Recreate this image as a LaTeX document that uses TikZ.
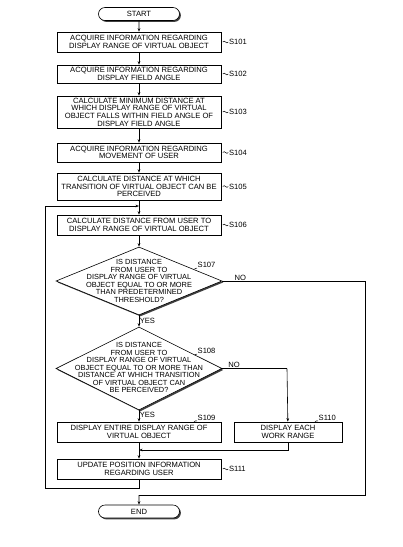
\documentclass[tikz,border=0pt]{standalone}
\usepackage{fontspec}
\setmainfont{Liberation Sans}
\usetikzlibrary{shapes.geometric,shapes.misc,shadows,arrows.meta,calc}
\begin{document}
\begin{tikzpicture}[x=1pt,y=-1pt,
  font=\fontsize{7.6}{7.7}\selectfont,
  shd/.style={drop shadow={shadow xshift=1.4pt,shadow yshift=-1.4pt,fill=black!75,opacity=1}},
  box/.style={draw,fill=white,line width=0.6pt,minimum width=164pt,align=center,inner sep=1pt,shd},
  term/.style={draw,fill=white,rounded rectangle,line width=0.6pt,minimum width=83pt,minimum height=13pt,inner sep=1pt,shd},
  dia/.style={draw,fill=white,diamond,line width=0.6pt,minimum width=166pt,inner sep=0pt,shd},
  dtext/.style={align=center,inner sep=0pt,font=\fontsize{7.4}{7.5}\selectfont},
  flow/.style={-{Stealth[length=3.5pt,width=2.6pt]},line width=0.6pt},
  ln/.style={line width=0.6pt},
  lab/.style={inner sep=0.5pt}]
\useasboundingbox (0,0) rectangle (403,547);

\node[term] (start) at (139,14) {START};
\node[box,minimum height=20pt] (s101) at (139,42) {ACQUIRE INFORMATION REGARDING\\DISPLAY RANGE OF VIRTUAL OBJECT};
\node[box,minimum height=18pt] (s102) at (139,74) {ACQUIRE INFORMATION REGARDING\\DISPLAY FIELD ANGLE};
\node[box,minimum height=32pt] (s103) at (139,112) {CALCULATE MINIMUM DISTANCE AT\\WHICH DISPLAY RANGE OF VIRTUAL\\OBJECT FALLS WITHIN FIELD ANGLE OF\\DISPLAY FIELD ANGLE};
\node[box,minimum height=19pt] (s104) at (139,152.5) {ACQUIRE INFORMATION REGARDING\\MOVEMENT OF USER};
\node[box,minimum height=27pt] (s105) at (139,186.5) {CALCULATE DISTANCE AT WHICH\\TRANSITION OF VIRTUAL OBJECT CAN BE\\PERCEIVED};
\node[box,minimum height=20pt] (s106) at (139,225) {CALCULATE DISTANCE FROM USER TO\\DISPLAY RANGE OF VIRTUAL OBJECT};
\node[dia,minimum height=68pt] (s107) at (139,281) {};
\node[dtext] (t107) at (139,281) {IS DISTANCE\\FROM USER TO\\DISPLAY RANGE OF VIRTUAL\\OBJECT EQUAL TO OR MORE\\THAN PREDETERMINED\\THRESHOLD?};
\node[dia,minimum height=83pt] (s108) at (139,368.5) {};
\node[dtext] (t108) at (139,367.5) {IS DISTANCE\\FROM USER TO\\DISPLAY RANGE OF VIRTUAL\\OBJECT EQUAL TO OR MORE THAN\\DISTANCE AT WHICH TRANSITION\\OF VIRTUAL OBJECT CAN\\BE PERCEIVED?};
\node[box,minimum height=20pt] (s109) at (139,432) {DISPLAY ENTIRE DISPLAY RANGE OF\\VIRTUAL OBJECT};
\node[box,minimum width=108pt,minimum height=20pt] (s110) at (288,432) {DISPLAY EACH\\WORK RANGE};
\node[box,minimum height=20pt] (s111) at (139,469) {UPDATE POSITION INFORMATION\\REGARDING USER};
\node[term] (end) at (139,511.5) {END};

% step labels with tilde
\foreach \n in {101,102,103,104,105,106,111}{
  \draw[line width=0.5pt] ($(s\n.east)+(1.5,0)$) .. controls +(2,-3) and +(-2,3) .. ($(s\n.east)+(7,0)$)
    node[right,lab] (l\n) {S\n};
}
% step labels with small arcs
\node[lab,anchor=south west] (l107) at (197,268) {S107};
\draw[line width=0.5pt] (194.5,269) to[bend left=40] (l107.south west);
\node[lab,anchor=south west] (l108) at (197,354) {S108};
\draw[line width=0.5pt] (194.5,355) to[bend left=40] (l108.south west);
\node[lab,anchor=south west] (l109) at (197,421) {S109};
\draw[line width=0.5pt] (194,422) to[bend left=40] (l109.south west);
\node[lab,anchor=south west] (l110) at (318,421) {S110};
\draw[line width=0.5pt] (315,422) to[bend left=40] (l110.south west);

% main flow
\draw[flow] (start) -- (s101);
\draw[flow] (s101) -- (s102);
\draw[flow] (s102) -- (s103);
\draw[flow] (s103) -- (s104);
\draw[flow] (s104) -- (s105);
\draw[flow] (s105) -- (s106);
\draw[flow] (s106) -- (s107);
\draw[flow] (s107) -- node[right,lab,pos=0.5] (yes1) {YES} (s108);
\draw[flow] (s108) -- node[right,lab,pos=0.4] (yes2) {YES} (s109);
\draw[flow] (s109) -- (s111);

% NO branches
\coordinate (m1) at (139,206);
\coordinate (m2) at (139,450);
\coordinate (m3) at (139,495);
\draw[ln] (s107.east) -- node[above right,lab,pos=0.08] (no1) {NO} (365,281) -- (365,495) -- (m3);
\draw[flow] (m3) -- (end);
\draw[ln] (s108.east) -- node[above right,lab,pos=0.08] (no2) {NO} (287,368.5);
\draw[flow] (287,368.5) -- (s110);
\draw[flow] (s110.south) |- (m2);

% loop back
\draw[flow] (s111.south) -- (139,488) -- (45,488) -- (45,206) -- (m1);
\end{tikzpicture}
\end{document}
